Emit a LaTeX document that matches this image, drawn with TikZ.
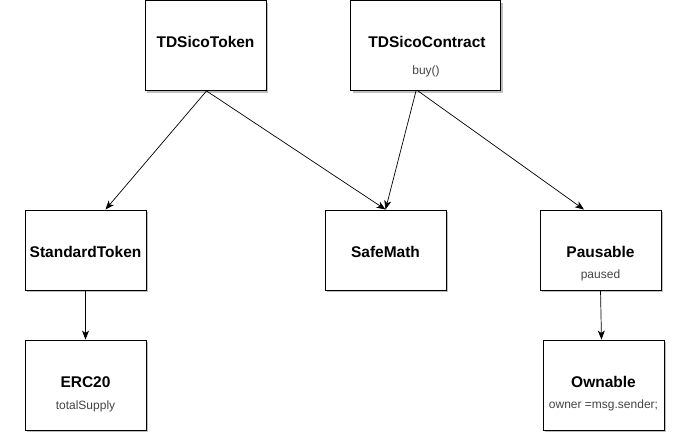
\documentclass[tikz,border=0pt]{standalone}
\usepackage{fontspec}
\setmainfont{Liberation Sans}
\usetikzlibrary{arrows.meta,shadows}
\definecolor{subgray}{HTML}{444444}
\begin{document}
\begin{tikzpicture}[x=1pt,y=-1pt,
  cls/.style={draw=black,line width=0.9pt,fill=white,inner sep=0pt,
    drop shadow={shadow xshift=2pt,shadow yshift=-2pt,opacity=0.25,fill=black}},
  ttl/.style={anchor=base,inner sep=0pt,font=\fontsize{15.5}{18}\selectfont\bfseries},
  sub/.style={anchor=base,inner sep=0pt,text=subgray,font=\fontsize{12}{14}\selectfont},
  dep/.style={draw=black,line width=0.7pt,-{Stealth[length=9pt,width=7pt,inset=2.5pt]}}]
\useasboundingbox (0,0) rectangle (700,442);
% boxes
\node[cls,minimum width=121pt,minimum height=90pt] (tok) at (205.5,45.5) {};
\node[cls,minimum width=150pt,minimum height=90pt] (con) at (425.5,45.5) {};
\node[cls,minimum width=121pt,minimum height=80pt] (std) at (85.5,250) {};
\node[cls,minimum width=121pt,minimum height=80pt] (safe) at (385.5,250) {};
\node[cls,minimum width=121pt,minimum height=80pt] (pau) at (600.5,250) {};
\node[cls,minimum width=121pt,minimum height=90pt] (erc) at (85.5,385) {};
\node[cls,minimum width=121pt,minimum height=90pt] (own) at (603.5,385) {};
% texts
\node[ttl] (tokT) at (205.5,47) {TDSicoToken};
\node[ttl] (conT) at (427,47) {TDSicoContract};
\node[sub] (conS) at (426,74) {buy()};
\node[ttl] (stdT) at (85.5,257) {StandardToken};
\node[ttl] (safeT) at (385.5,257) {SafeMath};
\node[ttl] (pauT) at (600.5,257) {Pausable};
\node[sub] (pauS) at (600.5,278) {paused};
\node[ttl] (ercT) at (85.5,387) {ERC20};
\node[sub] (ercS) at (85.5,409) {totalSupply};
\node[ttl] (ownT) at (603.5,387) {Ownable};
\node[sub] (ownS) at (603.5,408) {owner =msg.sender;};
% connectors
\coordinate (tokB) at ([xshift=1pt]tok.south);
\coordinate (conB1) at ([xshift=-9.5pt]con.south);
\coordinate (conB2) at ([xshift=-7.5pt]con.south);
\draw[dep] (tokB) -- ([xshift=20pt]std.north);
\draw[dep] (tokB) -- (safe.north);
\draw[dep] (conB1) -- (safe.north);
\draw[dep] (conB2) -- ([xshift=-16.5pt]pau.north);
\draw[dep] (std.south) -- (erc.north);
\draw[dep] (pau.south) -- ([xshift=-2pt]own.north);
\end{tikzpicture}
\end{document}
